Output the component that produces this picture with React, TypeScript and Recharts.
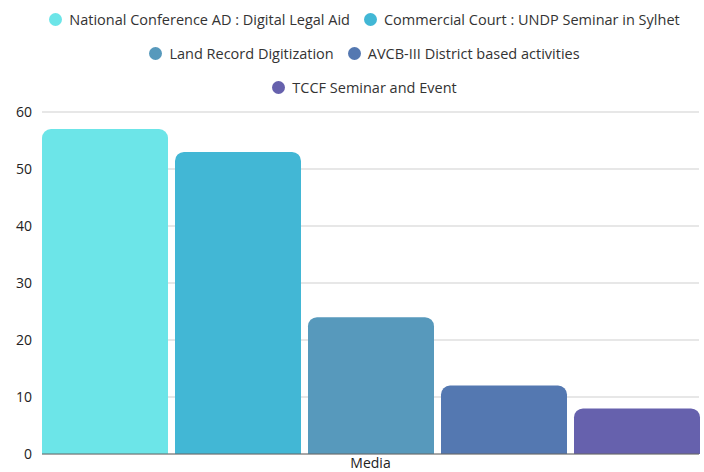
import React from 'react'
import { BarChart, Bar, XAxis, YAxis, CartesianGrid, Legend } from 'recharts'

const categories = ['Media']
const seriesNames = [
  'National Conference AD : Digital Legal Aid',
  'Commercial Court : UNDP Seminar in Sylhet',
  'Land Record Digitization',
  'AVCB-III District based activities',
  'TCCF Seminar and Event',
]
const seriesValues = [[57], [53], [24], [12], [8]]
const seriesColors = ['#6CE5E8', '#42B7D5', '#5799BC', '#5478B1', '#6661AD']
const yTicks = [0, 10, 20, 30, 40, 50, 60]
const legendRows = [2, 2, 1]

const FONT = '"Open Sans", sans-serif'

if (typeof document !== 'undefined') document.body.style.margin = '0'

const data = categories.map((name, i) => {
  const row: Record<string, string | number> = { name }
  seriesNames.forEach((s, j) => { row[s] = seriesValues[j][i] })
  return row
})

// legend built straight from the series list so the order stays as drawn
function LegendContent() {
  const rows: number[][] = []
  let k = 0
  legendRows.forEach(n => {
    rows.push(seriesNames.slice(k, k + n).map((_, i) => k + i))
    k += n
  })
  return (
    <div style={{ height: 110, paddingLeft: 30, fontFamily: FONT, fontSize: 14.5, color: '#333' }}>
      {rows.map((row, r) => (
        <div key={r} style={{ height: 34, display: 'flex', justifyContent: 'center', alignItems: 'center', gap: 14 }}>
          {row.map(j => (
            <div key={j} style={{ display: 'flex', alignItems: 'center' }}>
              <span style={{ width: 13, height: 13, borderRadius: '50%', background: seriesColors[j], marginRight: 7, display: 'inline-block' }} />
              <span>{seriesNames[j]}</span>
            </div>
          ))}
        </div>
      ))}
    </div>
  )
}

export default function App() {
  return (
    <div style={{ width: 704, height: 472, background: '#fff' }}>
      <BarChart
        width={704}
        height={472}
        data={data}
        margin={{ top: 2, right: 5, bottom: 0, left: 0 }}
        barCategoryGap={0}
        barGap={7}
      >
        <CartesianGrid vertical={false} stroke="#cfcfcf" />
        <XAxis
          dataKey="name"
          height={18}
          tickSize={0}
          tickMargin={4}
          axisLine={{ stroke: '#666' }}
          tickLine={false}
          tick={{ fill: '#222', fontSize: 14, fontFamily: FONT }}
        />
        <YAxis
          width={42}
          domain={[0, 60]}
          ticks={yTicks}
          tickSize={0}
          tickMargin={10}
          axisLine={false}
          tickLine={false}
          tick={{ fill: '#222', fontSize: 14, fontFamily: FONT }}
        />
        <Legend verticalAlign="top" content={<LegendContent />} />
        {seriesNames.map((s, j) => (
          <Bar key={s} dataKey={s} fill={seriesColors[j]} radius={[9, 9, 0, 0]} isAnimationActive={false} />
        ))}
      </BarChart>
    </div>
  )
}
